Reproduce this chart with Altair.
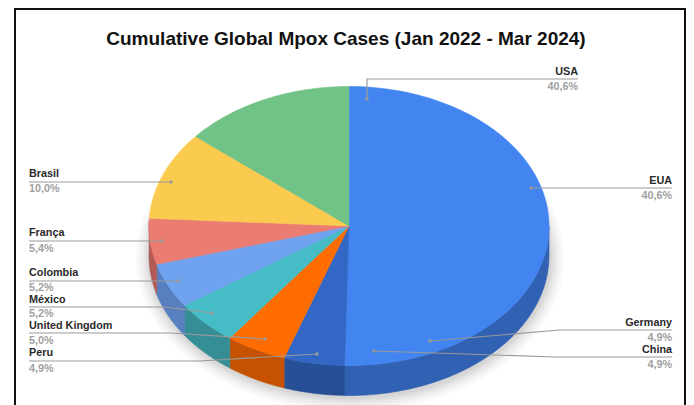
import numpy as np
import pandas as pd
import altair as alt

W, H = 678, 397
CX, CY, RX, RY, DEPTH = 349, 226, 200, 139.5, 30

slice_names = ["A", "B", "C", "D", "E", "F", "G", "H"]
slice_shares = [50.3, 4.9, 4.9, 5.2, 5.2, 5.3, 10.2, 13.9]
top_colors = ["#4285f0", "#3367c6", "#ff6d01", "#46bdc6", "#6fa3f0", "#ea7c72", "#fbcb50", "#71c287"]
wall_colors = ["#3161b3", "#274f96", "#c45200", "#358e95", "#587fc0", "#b25b55", "#bd9a3c", "#558f65"]

left_names = ["Brasil", "França", "Colombia", "México", "United Kingdom", "Peru"]
left_values = ["10,0%", "5,4%", "5,2%", "5,2%", "5,0%", "4,9%"]
left_name_y = [174, 233, 273, 300, 326, 353]
left_value_y = [189, 249, 288, 314, 341, 369]
right_names = ["EUA", "Germany", "China"]
right_values = ["40,6%", "4,9%", "4,9%"]
right_name_y = [181, 323, 350]
right_value_y = [196, 338, 365]
usa_name = ["USA"]
usa_value = ["40,6%"]

leaders = {
    "USA": [(578, 79), (367, 79), (367, 99)],
    "EUA": [(672, 188), (531, 188)],
    "Germany": [(672, 330), (560, 330), (430, 341)],
    "China": [(672, 357), (555, 357), (374, 351)],
    "Brasil": [(29, 182), (171, 182)],
    "França": [(29, 241), (162, 241)],
    "Colombia": [(29, 281), (178, 281)],
    "México": [(29, 307), (165, 307), (212, 313)],
    "United Kingdom": [(29, 333), (170, 333), (265, 339)],
    "Peru": [(29, 361), (200, 361), (317, 354)],
}

frame = [(15, 405), (15, 9), (685, 9), (685, 405)]

x_enc = alt.X("x:Q", axis=None, scale=alt.Scale(domain=[8, 8 + W], nice=False, zero=False))
y_enc = alt.Y("y:Q", axis=None, scale=alt.Scale(domain=[8 + H, 8], nice=False, zero=False))


def ex(t):
    return CX + RX * np.sin(np.radians(t))


def ey(t):
    return CY - RY * np.cos(np.radians(t))


edges = np.concatenate([[0], np.cumsum(slice_shares)]) / sum(slice_shares) * 360
tops, walls = [], []
for i, name in enumerate(slice_names):
    t0, t1 = edges[i], edges[i + 1]
    ts = np.linspace(t0, t1, 90)
    pts = [(CX, CY)] + list(zip(ex(ts), ey(ts)))
    tops += [{"k": name, "i": j, "x": p[0], "y": p[1]} for j, p in enumerate(pts)]
    a, b = max(t0, 90), min(t1, 272)
    if b > a:
        ts = np.linspace(a, b, 60)
        pts = list(zip(ex(ts), ey(ts))) + list(zip(ex(ts[::-1]), ey(ts[::-1]) + DEPTH))
        walls += [{"k": name, "i": j, "x": p[0], "y": p[1]} for j, p in enumerate(pts)]

shadow_rows = []
for n, grow in enumerate([14, 11, 8.5, 6.5, 4.5, 3, 1.5]):
    ts = np.linspace(0, 360, 180)
    for j, t in enumerate(ts):
        shadow_rows.append({"k": n, "i": j,
                            "x": CX + (RX + grow) * np.sin(np.radians(t)) + 1,
                            "y": CY + DEPTH + 2 - (RY + grow) * np.cos(np.radians(t))})


def polys(rows, colors):
    scale = alt.Scale(domain=slice_names, range=colors)
    return alt.Chart(pd.DataFrame(rows)).mark_line(strokeWidth=0.6, interpolate="linear-closed").encode(
        x=x_enc, y=y_enc, order="i:Q",
        fill=alt.Fill("k:N", scale=scale, legend=None),
        stroke=alt.Stroke("k:N", scale=scale, legend=None),
    )


shadow = alt.Chart(pd.DataFrame(shadow_rows)).mark_line(
    interpolate="linear-closed", fill="#000000", fillOpacity=0.022, strokeWidth=0
).encode(x=x_enc, y=y_enc, order="i:Q", detail="k:N")

frame_df = pd.DataFrame([{"i": i, "x": p[0], "y": p[1]} for i, p in enumerate(frame)])
border = alt.Chart(frame_df).mark_line(color="#111111", strokeWidth=2).encode(x=x_enc, y=y_enc, order="i:Q")

lead_rows = [{"k": k, "i": i, "x": p[0], "y": p[1]} for k, v in leaders.items() for i, p in enumerate(v)]
lead = alt.Chart(pd.DataFrame(lead_rows)).mark_line(color="#9a9a9a", strokeWidth=1.2).encode(
    x=x_enc, y=y_enc, order="i:Q", detail="k:N")
dots = alt.Chart(pd.DataFrame([{"x": v[-1][0], "y": v[-1][1]} for v in leaders.values()])).mark_circle(
    size=12, color="#9a9a9a", opacity=1).encode(x=x_enc, y=y_enc)


def texts(labels, xs, ys, align, color, size=10.8):
    df = pd.DataFrame({"t": labels, "x": xs, "y": ys})
    return alt.Chart(df).mark_text(align=align, baseline="middle", font="Liberation Sans", fontWeight="bold",
                                   fontSize=size, color=color).encode(x=x_enc, y=y_enc, text="t:N")


title = alt.Chart(pd.DataFrame({"t": ["Cumulative Global Mpox Cases (Jan 2022 - Mar 2024)"], "x": [346], "y": [38.5]})).mark_text(
    align="center", baseline="middle", font="Liberation Sans", fontWeight="bold", fontSize=19, color="#111111"
).encode(x=x_enc, y=y_enc, text="t:N")

NAME, VAL = "#2a2a2a", "#a0a0a0"
chart = alt.layer(
    border, title, shadow,
    polys(walls, wall_colors),
    polys(tops, top_colors),
    lead, dots,
    texts(left_names, [29] * 6, left_name_y, "left", NAME),
    texts(left_values, [29] * 6, left_value_y, "left", VAL),
    texts(right_names, [672] * 3, right_name_y, "right", NAME),
    texts(right_values, [672] * 3, right_value_y, "right", VAL),
    texts(usa_name, [578], [72], "right", NAME),
    texts(usa_value, [578], [87], "right", VAL),
).resolve_scale(fill="independent", stroke="independent").properties(
    width=W, height=H, padding=0, autosize="none", background="white"
).configure_view(stroke=None)

chart.save("out.html", embed_options={"renderer": "svg", "actions": False})
